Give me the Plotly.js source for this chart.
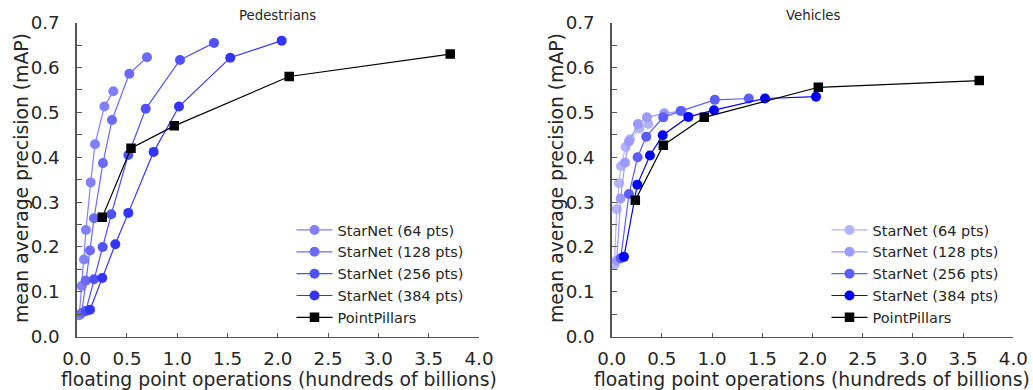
<!DOCTYPE html>
<html>
<head>
<meta charset="utf-8">
<script src="https://cdn.plot.ly/plotly-3.0.1.min.js"></script>
<style>html,body{margin:0;padding:0;background:#fff;}#chart{width:1033px;height:390px;}</style>
</head>
<body>
<div id="chart"></div>
<script>
// ---- data ----
const seriesNames = ["StarNet (64 pts)", "StarNet (128 pts)", "StarNet (256 pts)", "StarNet (384 pts)"];
const ppName = "PointPillars";

// Pedestrians
const pedX64  = [0.026, 0.05, 0.073, 0.092, 0.139, 0.182, 0.275, 0.364];
const pedY64  = [0.048, 0.113, 0.172, 0.238, 0.344, 0.429, 0.513, 0.547];
const pedX128 = [0.05, 0.089, 0.132, 0.172, 0.261, 0.351, 0.523, 0.699];
const pedY128 = [0.053, 0.125, 0.192, 0.264, 0.387, 0.483, 0.586, 0.623];
const pedX256 = [0.09, 0.172, 0.258, 0.344, 0.513, 0.686, 1.027, 1.365];
const pedY256 = [0.057, 0.128, 0.200, 0.273, 0.405, 0.508, 0.617, 0.655];
const pedX384 = [0.132, 0.254, 0.384, 0.513, 0.765, 1.017, 1.527, 2.038];
const pedY384 = [0.060, 0.131, 0.206, 0.276, 0.412, 0.513, 0.622, 0.660];
const pedPPX  = [0.254, 0.54, 0.97, 2.113, 3.714];
const pedPPY  = [0.266, 0.420, 0.470, 0.580, 0.630];

// Vehicles
const vehX64  = [0.026, 0.05, 0.073, 0.092, 0.139, 0.182, 0.275, 0.364];
const vehY64  = [0.160, 0.284, 0.342, 0.380, 0.423, 0.440, 0.464, 0.474];
const vehX128 = [0.05, 0.089, 0.132, 0.172, 0.261, 0.351, 0.523, 0.699];
const vehY128 = [0.170, 0.308, 0.388, 0.435, 0.474, 0.489, 0.498, 0.503];
const vehX256 = [0.09, 0.172, 0.258, 0.344, 0.513, 0.686, 1.027, 1.365];
const vehY256 = [0.175, 0.318, 0.400, 0.446, 0.489, 0.503, 0.528, 0.531];
const vehX384 = [0.122, 0.255, 0.381, 0.508, 0.763, 1.019, 1.527, 2.035];
const vehY384 = [0.178, 0.339, 0.404, 0.449, 0.490, 0.505, 0.531, 0.535];
const vehPPX  = [0.235, 0.514, 0.922, 2.058, 3.661];
const vehPPY  = [0.304, 0.427, 0.489, 0.556, 0.571];

const tickVals = [0, 0.5, 1, 1.5, 2, 2.5, 3, 3.5, 4];
const yTickVals = [0, 0.1, 0.2, 0.3, 0.4, 0.5, 0.6, 0.7];

// ---- styles ----
const pedColors = ["#8080ff", "#6a6aff", "#5050ff", "#3434ff"];
const vehColors = ["#b3b3ff", "#9b9bff", "#5c5cff", "#0000ff"];
const FONT = "DejaVu Sans, Liberation Sans, sans-serif";
const TXT = "#262626";

function star(x, y, name, color, xa, ya, lg, grp) {
  return {x: x, y: y, name: name, type: "scatter", mode: "lines+markers",
    xaxis: xa, yaxis: ya, legend: lg, legendgroup: grp,
    line: {color: color, width: 1.2},
    marker: {color: color, size: 10, symbol: "circle", line: {width: 0}}};
}
function pp(x, y, xa, ya, lg, grp) {
  return {x: x, y: y, name: ppName, type: "scatter", mode: "lines+markers",
    xaxis: xa, yaxis: ya, legend: lg, legendgroup: grp,
    line: {color: "#000", width: 1.2},
    marker: {color: "#000", size: 9.5, symbol: "square", line: {width: 0}}};
}

const traces = [
  star(pedX64, pedY64, seriesNames[0], pedColors[0], "x", "y", "legend", "a0"),
  star(pedX128, pedY128, seriesNames[1], pedColors[1], "x", "y", "legend", "a1"),
  star(pedX256, pedY256, seriesNames[2], pedColors[2], "x", "y", "legend", "a2"),
  star(pedX384, pedY384, seriesNames[3], pedColors[3], "x", "y", "legend", "a3"),
  pp(pedPPX, pedPPY, "x", "y", "legend", "a4"),
  star(vehX64, vehY64, seriesNames[0], vehColors[0], "x2", "y2", "legend2", "b0"),
  star(vehX128, vehY128, seriesNames[1], vehColors[1], "x2", "y2", "legend2", "b1"),
  star(vehX256, vehY256, seriesNames[2], vehColors[2], "x2", "y2", "legend2", "b2"),
  star(vehX384, vehY384, seriesNames[3], vehColors[3], "x2", "y2", "legend2", "b3"),
  pp(vehPPX, vehPPY, "x2", "y2", "legend2", "b4")
];

function xAxis(domain, anchor) {
  return {domain: domain, anchor: anchor, range: [0, 4], showgrid: false, zeroline: false,
    showline: true, linecolor: "#555", linewidth: 1.3, ticks: "inside", ticklen: 4,
    tickcolor: "#555", tickwidth: 1, tickvals: tickVals, tickformat: ".1f",
    ticklabelstandoff: 5, tickfont: {family: FONT, size: 18.3, color: TXT}, fixedrange: true};
}
function yAxis(domain, anchor) {
  return {domain: domain, anchor: anchor, range: [0, 0.7], showgrid: false, zeroline: false,
    showline: true, linecolor: "#555", linewidth: 1.3, ticks: "inside", ticklen: 5,
    tickcolor: "#555", tickwidth: 1, tickvals: yTickVals, tickformat: ".1f",
    minor: {dtick: 0.05, ticks: "inside", ticklen: 5, tickcolor: "#555", tickwidth: 1, showgrid: false},
    ticklabelstandoff: 12, tickfont: {family: FONT, size: 18.3, color: TXT}, fixedrange: true};
}

const yDom = [0.1367, 0.9418];
const legendBase = {bgcolor: "rgba(0,0,0,0)", borderwidth: 0, font: {family: FONT, size: 14.5, color: TXT},
  itemwidth: 36, tracegroupgap: 2, xanchor: "left", yanchor: "top", traceorder: "normal"};

const layout = {
  width: 1033, height: 390,
  margin: {l: 0, r: 0, t: 0, b: 0, pad: 0},
  paper_bgcolor: "#fff", plot_bgcolor: "#fff",
  showlegend: true,
  xaxis: xAxis([0.07425, 0.4637], "y"),
  yaxis: yAxis(yDom, "x"),
  xaxis2: xAxis([0.59216, 0.98093], "y2"),
  yaxis2: yAxis(yDom, "x2"),
  legend: Object.assign({}, legendBase, {x: 291.5 / 1033, y: 1 - 214 / 390}),
  legend2: Object.assign({}, legendBase, {x: 826.5 / 1033, y: 1 - 214 / 390}),
  annotations: [
    {text: "Pedestrians", xref: "paper", yref: "paper", x: 277 / 1033, y: 1 - 16 / 390, showarrow: false,
     xanchor: "center", yanchor: "middle", font: {family: FONT, size: 13.3, color: TXT}},
    {text: "Vehicles", xref: "paper", yref: "paper", x: 813 / 1033, y: 1 - 16 / 390, showarrow: false,
     xanchor: "center", yanchor: "middle", font: {family: FONT, size: 13.3, color: TXT}},
    {text: "floating point operations (hundreds of billions)", xref: "paper", yref: "paper",
     x: 279 / 1033, y: 1 - 379 / 390, showarrow: false, xanchor: "center", yanchor: "middle",
     font: {family: FONT, size: 18.8, color: TXT}},
    {text: "floating point operations (hundreds of billions)", xref: "paper", yref: "paper",
     x: 812 / 1033, y: 1 - 379 / 390, showarrow: false, xanchor: "center", yanchor: "middle",
     font: {family: FONT, size: 18.8, color: TXT}},
    {text: "mean average precision (mAP)", xref: "paper", yref: "paper", textangle: -90,
     x: 22 / 1033, y: 1 - 178 / 390, showarrow: false, xanchor: "center", yanchor: "middle",
     font: {family: FONT, size: 18.8, color: TXT}},
    {text: "mean average precision (mAP)", xref: "paper", yref: "paper", textangle: -90,
     x: 557 / 1033, y: 1 - 178 / 390, showarrow: false, xanchor: "center", yanchor: "middle",
     font: {family: FONT, size: 18.8, color: TXT}}
  ]
};

Plotly.newPlot("chart", traces, layout, {displayModeBar: false, staticPlot: true});
</script>
</body>
</html>
